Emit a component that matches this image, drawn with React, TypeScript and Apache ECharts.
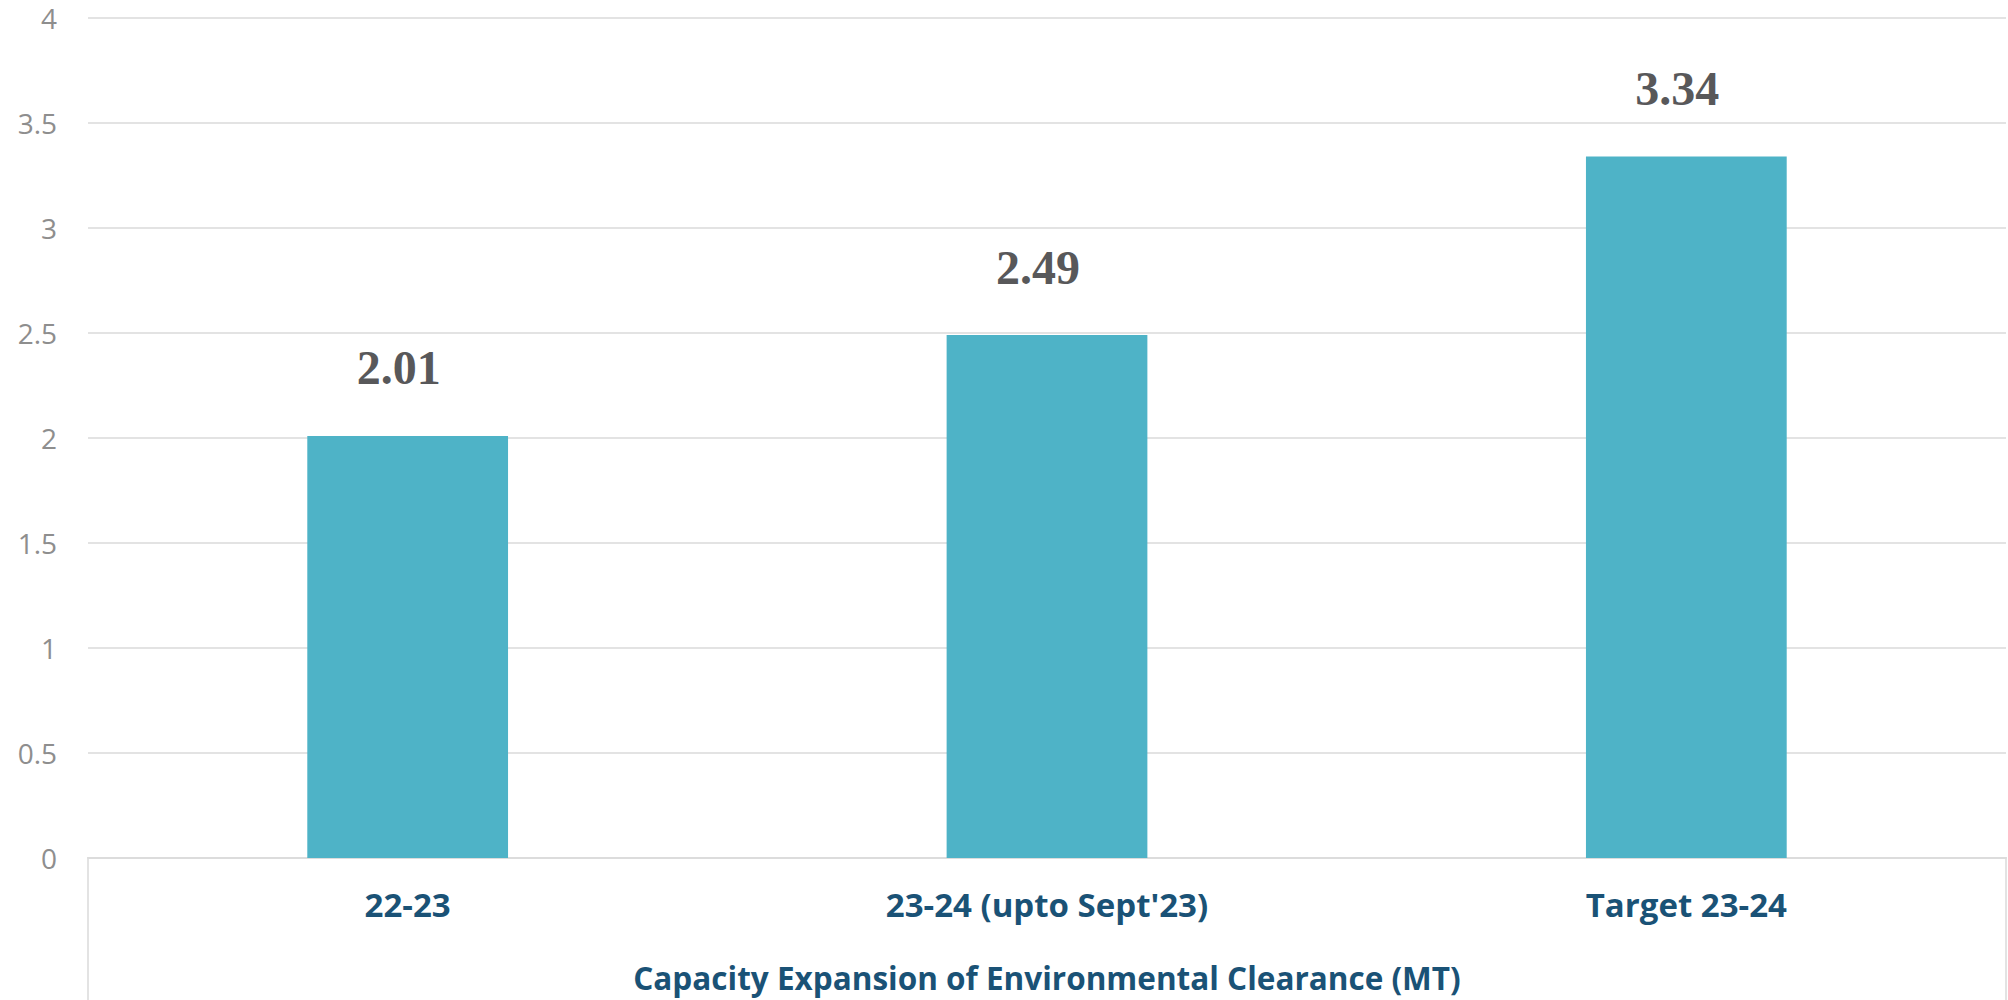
import React, { useEffect, useRef } from "react";
import * as echarts from "echarts";

const categories = ["22-23", "23-24 (upto Sept'23)", "Target 23-24"];
const values = [2.01, 2.49, 3.34];
const yTicks = { min: 0, max: 4, interval: 0.5 };
const axisTitle = "Capacity Expansion of Environmental Clearance (MT)";

export default function App() {
  const ref = useRef<HTMLDivElement>(null);
  useEffect(() => {
    if (!ref.current) return;
    const chart = echarts.init(ref.current, undefined, { renderer: "svg" });
    chart.setOption({
      animation: false,
      backgroundColor: "#ffffff",
      grid: { left: 88, right: 2, top: 18, bottom: 142, containLabel: false },
      xAxis: {
        type: "category",
        data: categories,
        axisLine: { show: true, lineStyle: { color: "#dcdcdc", width: 2 } },
        axisTick: { show: false },
        axisLabel: {
          color: "#1A5276",
          fontFamily: "Open Sans",
          fontWeight: "bold",
          fontSize: 33,
          margin: 30,
        },
        name: axisTitle,
        nameLocation: "middle",
        nameGap: 103,
        nameTextStyle: {
          color: "#1A5276",
          fontFamily: "Open Sans",
          fontWeight: "bold",
          fontSize: 31.5,
        },
      },
      yAxis: {
        type: "value",
        min: yTicks.min,
        max: yTicks.max,
        interval: yTicks.interval,
        axisLine: { show: false },
        axisTick: { show: false },
        axisLabel: {
          color: "#8e8e8e",
          fontFamily: "Open Sans",
          fontSize: 28,
          margin: 31,
        },
        splitLine: { lineStyle: { color: "#e3e3e3", width: 2 } },
      },
      graphic: [
        {
          type: "rect",
          silent: true,
          shape: { x: 88, y: 858, width: 1918, height: 150 },
          style: { fill: "none", stroke: "#e3e3e3", lineWidth: 2 },
          z: -1,
        },
      ],
      series: [
        {
          type: "bar",
          data: values,
          barWidth: "31.4%",
          itemStyle: { color: "#4EB3C7" },
          label: {
            show: true,
            position: "top",
            distance: 44,
            offset: [-9, 0],
            color: "#58585a",
            fontFamily: "Liberation Serif",
            fontWeight: "bold",
            fontSize: 48,
            formatter: (p: any) => p.value.toFixed(2),
          },
        },
      ],
    });
    return () => chart.dispose();
  }, []);
  return (
    <div
      ref={ref}
      style={{ position: "absolute", left: 0, top: 0, width: 2008, height: 1000 }}
    />
  );
}
